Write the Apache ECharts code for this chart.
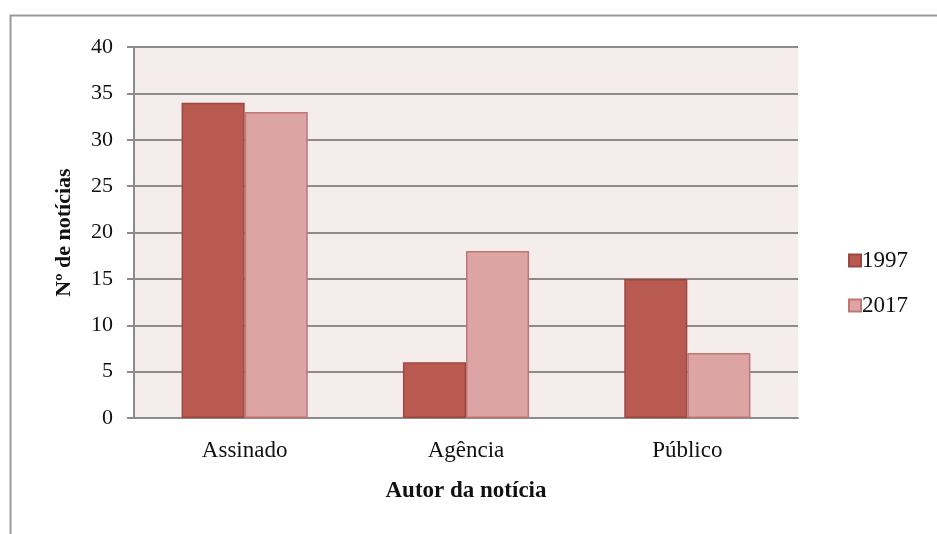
<!DOCTYPE html>
<html><head><meta charset="utf-8">
<script src="https://cdn.jsdelivr.net/npm/echarts@6/dist/echarts.min.js"></script>
<style>html,body{margin:0;padding:0;background:#fff}#c{width:937px;height:534px}</style>
</head><body><div id="c"></div>
<script>
const categories = ["Assinado", "Agência", "Público"];
const series1997 = [34, 6, 15];
const series2017 = [33, 18, 7];
const seriesNames = ["1997", "2017"];
const yTicks = [0, 5, 10, 15, 20, 25, 30, 35, 40];

const FONT = "Liberation Serif";
const chart = echarts.init(document.getElementById('c'));
chart.setOption({
  animation: false,
  backgroundColor: '#fff',
  graphic: [
    {type: 'rect', left: 8, top: 13, shape: {x: 0, y: 0, width: 1000, height: 600},
     style: {fill: 'none', stroke: '#9a9a9a', lineWidth: 2}, silent: true}
  ],
  grid: {left: 134, right: 139, top: 47, bottom: 116, backgroundColor: '#F4EDEC', show: true, borderWidth: 0},
  legend: {
    orient: 'vertical', left: 843, top: 244, itemGap: 22, itemWidth: 12, itemHeight: 12,
    icon: 'rect',
    textStyle: {fontFamily: FONT, fontSize: 23, color: '#111', padding: [8, 0, 0, -4]},
    data: seriesNames
  },
  xAxis: {
    type: 'category', data: categories,
    name: 'Autor da notícia', nameLocation: 'middle', nameGap: 62,
    nameTextStyle: {fontFamily: FONT, fontSize: 23, fontWeight: 'bold', color: '#111'},
    axisLine: {show: true, lineStyle: {color: '#8c8c8c', width: 2}},
    axisTick: {show: false},
    axisLabel: {fontFamily: FONT, fontSize: 23, color: '#111', margin: 21}
  },
  yAxis: {
    type: 'value', min: yTicks[0], max: yTicks[yTicks.length - 1], interval: 5,
    name: 'Nº de notícias', nameLocation: 'middle', nameGap: 59,
    nameTextStyle: {fontFamily: FONT, fontSize: 22, fontWeight: 'bold', color: '#111'},
    axisLine: {show: true, lineStyle: {color: '#8c8c8c', width: 2}},
    axisTick: {show: true, length: 7, lineStyle: {color: '#8c8c8c', width: 2}},
    axisLabel: {fontFamily: FONT, fontSize: 22, color: '#111', margin: 21},
    splitLine: {show: true, lineStyle: {color: '#8c8c8c', width: 2}}
  },
  series: [
    {name: seriesNames[0], type: 'bar', data: series1997, barGap: '0%', barCategoryGap: '43%',
     itemStyle: {color: '#B95A51', borderColor: '#9E4640', borderWidth: 1.5}},
    {name: seriesNames[1], type: 'bar', data: series2017,
     itemStyle: {color: '#DCA4A3', borderColor: '#BF7775', borderWidth: 1.5}}
  ]
});
</script></body></html>
